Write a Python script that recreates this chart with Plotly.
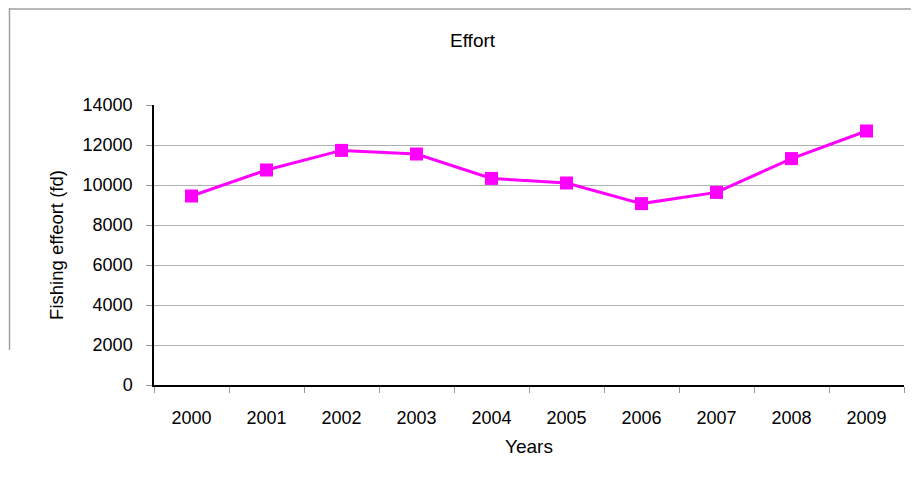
import plotly.graph_objects as go

years = ["2000", "2001", "2002", "2003", "2004", "2005", "2006", "2007", "2008", "2009"]
effort = [9450, 10750, 11730, 11550, 10330, 10100, 9070, 9630, 11320, 12700]

# page is offset by 8px body margin; work in reference pixel coords
OFF = 8
W, H = 919 - OFF, 489 - OFF
L, T = 154 - OFF, 105 - OFF
R = W - (904 - OFF)
B = H - (385 - OFF)
pw, ph = W - L - R, H - T - B

def px_x(p):
    return (p - OFF - L) / pw

def px_y(p):
    return (H - B - (p - OFF)) / ph

FONT = "Liberation Sans, Arial, sans-serif"

fig = go.Figure()
fig.add_trace(go.Scatter(
    x=years, y=effort, mode="lines+markers",
    line=dict(color="#FF00FF", width=3),
    marker=dict(symbol="square", size=13, color="#FF00FF"),
    showlegend=False,
))

fig.update_layout(
    width=W, height=H,
    margin=dict(l=L, r=R, t=T, b=B),
    paper_bgcolor="white", plot_bgcolor="white",
    font=dict(family=FONT, size=18, color="#000000"),
    showlegend=False,
    annotations=[dict(
        text="Effort", x=px_x(473), y=px_y(41), xref="paper", yref="paper",
        showarrow=False, font=dict(family=FONT, size=19, color="#000000"),
        xanchor="center", yanchor="middle",
    )],
    shapes=[
        dict(type="line", xref="paper", yref="paper",
             x0=px_x(9), x1=px_x(930), y0=px_y(9), y1=px_y(9),
             line=dict(color="#a0a0a0", width=1.5)),
        dict(type="line", xref="paper", yref="paper",
             x0=px_x(9.5), x1=px_x(9.5), y0=px_y(8), y1=px_y(350),
             line=dict(color="#a0a0a0", width=1.5)),
    ],
)

fig.update_xaxes(
    type="category",
    tickson="boundaries",
    ticks="outside", ticklen=6, tickcolor="#999999", tickwidth=1,
    showline=True, linecolor="#000000", linewidth=1.5,
    showgrid=False, zeroline=False,
    ticklabelstandoff=16,
    tickfont=dict(family=FONT, size=18),
    title=dict(text="Years", font=dict(family=FONT, size=19), standoff=12),
    range=[-0.5, 9.5],
)

fig.update_yaxes(
    range=[0, 14000], dtick=2000, tick0=0, tickformat="d",
    ticks="outside", ticklen=6, tickcolor="#999999", tickwidth=1,
    showline=True, linecolor="#000000", linewidth=1.5,
    showgrid=True, gridcolor="#b0b0b0", gridwidth=1,
    zeroline=False,
    ticklabelstandoff=10,
    tickfont=dict(family=FONT, size=18),
    title=dict(text="Fishing effeort (fd)", font=dict(family=FONT, size=18.5), standoff=14),
)

fig.write_html("out.html")
